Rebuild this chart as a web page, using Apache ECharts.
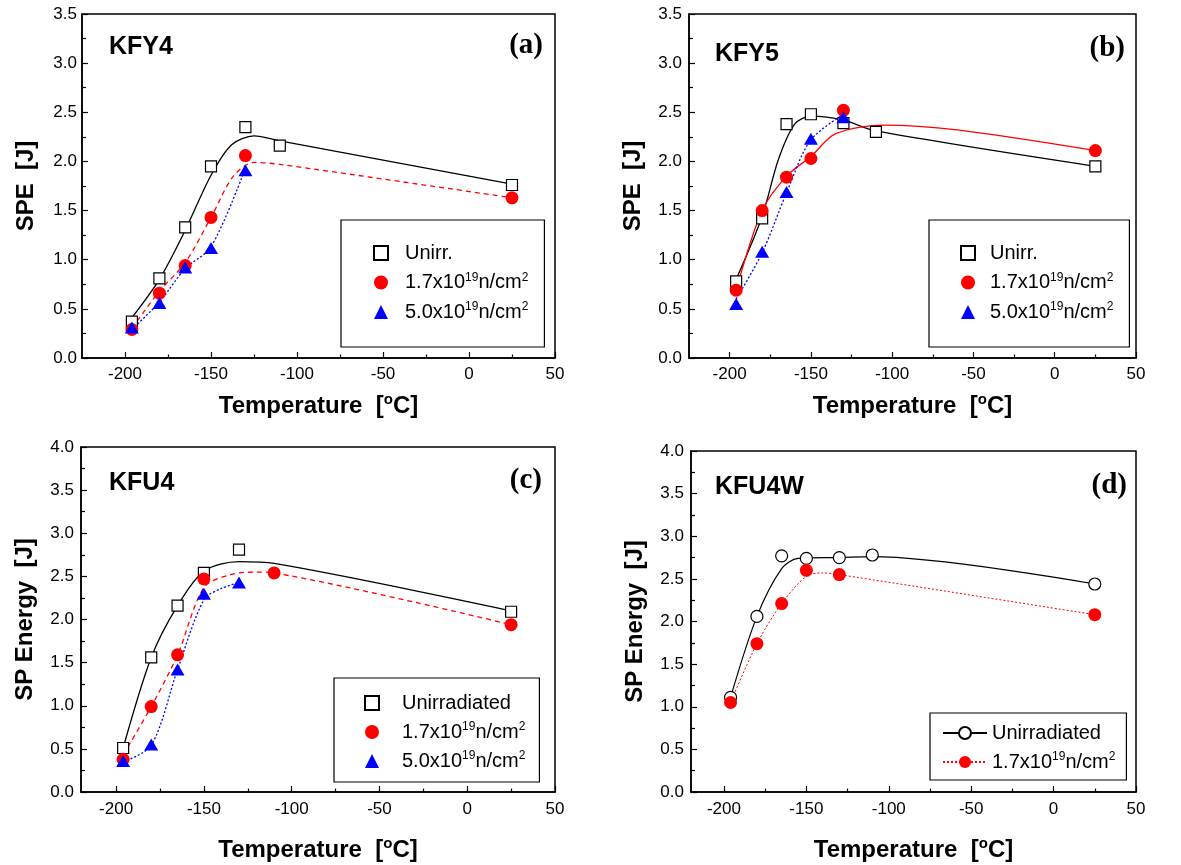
<!DOCTYPE html>
<html>
<head>
<meta charset="utf-8">
<script src="https://cdn.jsdelivr.net/npm/echarts@6/dist/echarts.min.js"></script>
<style>
html, body { margin: 0; padding: 0; background: #fff; }
#main { width: 1181px; height: 865px; }
</style>
</head>
<body>
<div id="main"></div>
<script>
// measured temperatures
var tempAll = [-196, -180, -165, -150, -130, -110, 25];
var tempNo110 = [-196, -180, -165, -150, -130, 25];
var tempLow5 = [-196, -180, -165, -150, -130];
var tempKfu4Low = [-196, -180, -165, -150, -110, 25];

// SP energy values (J)
var kfy4Unirr = [0.37, 0.81, 1.33, 1.95, 2.35, 2.16, 1.76];
var kfy4Low = [0.29, 0.66, 0.94, 1.43, 2.06, 1.63];
var kfy4High = [0.31, 0.56, 0.92, 1.12, 1.91];
var kfy5Unirr = [0.78, 1.42, 2.38, 2.48, 2.39, 2.30, 1.95];
var kfy5Low = [0.69, 1.50, 1.84, 2.03, 2.52, 2.11];
var kfy5High = [0.55, 1.08, 1.69, 2.23, 2.45];
var kfu4Unirr = [0.51, 1.56, 2.16, 2.54, 2.81, 2.09];
var kfu4Low = [0.38, 0.99, 1.59, 2.47, 2.54, 1.94];
var kfu4High = [0.36, 0.55, 1.42, 2.30, 2.43];
var kfu4wUnirr = [1.11, 2.06, 2.77, 2.74, 2.75, 2.78, 2.44];
var kfu4wLow = [1.05, 1.74, 2.21, 2.60, 2.55, 2.08];

// fitted curves
var kfy4FitUnirr = [[-196, 0.41], [-180, 0.80], [-165, 1.30], [-150, 1.86], [-138, 2.17], [-125, 2.26], [-110, 2.21], [25, 1.77]];
var kfy4FitLow = [[-196, 0.30], [-180, 0.68], [-165, 0.97], [-150, 1.43], [-137, 1.85], [-125, 1.99], [-110, 1.97], [25, 1.63]];
var kfy4FitHigh = [[-196, 0.29], [-180, 0.57], [-165, 0.91], [-150, 1.13], [-130, 1.93]];
var kfy5FitUnirr = [[-196, 0.80], [-180, 1.44], [-170, 2.02], [-160, 2.38], [-150, 2.46], [-130, 2.42], [-110, 2.31], [25, 1.95]];
var kfy5FitLow = [[-196, 0.69], [-180, 1.50], [-165, 1.85], [-150, 2.05], [-135, 2.28], [-105, 2.37], [-60, 2.32], [25, 2.11]];
var kfy5FitHigh = [[-196, 0.60], [-180, 1.07], [-165, 1.68], [-150, 2.22], [-127, 2.51]];
var kfu4FitUnirr = [[-196, 0.51], [-180, 1.56], [-165, 2.16], [-150, 2.56], [-130, 2.67], [-110, 2.65], [25, 2.10]];
var kfu4FitLow = [[-196, 0.43], [-180, 0.99], [-165, 1.59], [-150, 2.37], [-135, 2.52], [-120, 2.55], [-110, 2.54], [25, 1.94]];
var kfu4FitHigh = [[-196, 0.35], [-180, 0.54], [-165, 1.42], [-150, 2.23], [-140, 2.36], [-130, 2.43]];
var kfu4wFitUnirr = [[-196, 1.11], [-180, 2.06], [-165, 2.62], [-155, 2.74], [-130, 2.75], [-110, 2.76], [25, 2.44]];
var kfu4wFitLow = [[-196, 1.05], [-180, 1.74], [-165, 2.21], [-150, 2.53], [-140, 2.57], [-130, 2.55], [25, 2.08]];

// axis ticks
var xMajorTicks = [-200, -150, -100, -50, 0, 50];
var xMinorTicks = [-175, -125, -75, -25, 25];

var FONT = '"Liberation Sans", Arial, sans-serif';
var LOW = '1.7x10{sup|19}n/cm{sup|2}';
var HIGH = '5.0x10{sup|19}n/cm{sup|2}';

var legendText = {
    'KFY4 Unirr.': 'Unirr.', 'KFY4 low': LOW, 'KFY4 high': HIGH,
    'KFY5 Unirr.': 'Unirr.', 'KFY5 low': LOW, 'KFY5 high': HIGH,
    'KFU4 Unirr.': 'Unirradiated', 'KFU4 low': LOW, 'KFU4 high': HIGH,
    'KFU4W Unirr.': 'Unirradiated', 'KFU4W low': LOW
};

function pairs(xs, ys) {
    return xs.map(function (x, i) { return [x, ys[i]]; });
}

var chart = echarts.init(document.getElementById('main'));

var panels = [
    { rect: { left: 82, top: 14, width: 473, height: 344 }, xMin: -225, yMax: 3.5, yName: 'SPE  [J]', nameGap: 34, xMargin: 8, yMargin: 5 },
    { rect: { left: 689, top: 14, width: 447, height: 344 }, xMin: -225, yMax: 3.5, yName: 'SPE  [J]', nameGap: 34, xMargin: 8, yMargin: 7 },
    { rect: { left: 81, top: 447, width: 474, height: 345 }, xMin: -220, yMax: 4, yName: 'SP Energy  [J]', nameGap: 44, xMargin: 9, yMargin: 7 },
    { rect: { left: 691, top: 451, width: 445, height: 341 }, xMin: -220, yMax: 4, yName: 'SP Energy  [J]', nameGap: 44, xMargin: 9, yMargin: 7 }
];

var grids = [], xAxes = [], yAxes = [];
panels.forEach(function (p) {
    var g = grids.length;
    grids.push(Object.assign({ show: true, borderColor: '#000', borderWidth: 1.5, backgroundColor: 'transparent', outerBoundsMode: 'none' }, p.rect));
    grids.push(Object.assign({ show: false, outerBoundsMode: 'none' }, p.rect));
    xAxes.push({
        type: 'value', gridIndex: g, min: p.xMin, max: 50,
        name: 'Temperature  [{sup|o}C]', nameLocation: 'middle', nameGap: p.nameGap, nameMoveOverlap: false,
        nameTextStyle: { fontFamily: FONT, fontSize: 24, fontWeight: 'bold', color: '#000', lineHeight: 28,
            rich: { sup: { fontFamily: FONT, fontSize: 15, fontWeight: 'bold', color: '#000', lineHeight: 8, verticalAlign: 'top' } } },
        axisLine: { show: true, onZero: false, lineStyle: { color: '#000', width: 1.5 } },
        axisTick: { show: true, inside: true, length: 6, customValues: xMajorTicks, lineStyle: { color: '#000', width: 1.2 } },
        axisLabel: { customValues: xMajorTicks, margin: p.xMargin, fontFamily: FONT, fontSize: 17, color: '#000' },
        splitLine: { show: false }
    });
    xAxes.push({
        type: 'value', gridIndex: g + 1, min: p.xMin, max: 50,
        axisLine: { show: false, onZero: false },
        axisTick: { show: true, inside: true, length: 3.5, customValues: xMinorTicks, lineStyle: { color: '#000', width: 1.2 } },
        axisLabel: { show: false },
        splitLine: { show: false }
    });
    yAxes.push({
        type: 'value', gridIndex: g, min: 0, max: p.yMax, interval: 0.5,
        name: p.yName, nameLocation: 'middle', nameGap: 44, nameMoveOverlap: false,
        nameTextStyle: { fontFamily: FONT, fontSize: 24, fontWeight: 'bold', color: '#000' },
        axisLine: { show: true, onZero: false, lineStyle: { color: '#000', width: 1.5 } },
        axisTick: { show: true, inside: true, length: 6, lineStyle: { color: '#000', width: 1.2 } },
        minorTick: { show: true, splitNumber: 2, length: 4, lineStyle: { color: '#000', width: 1.2 } },
        axisLabel: { margin: p.yMargin, fontFamily: FONT, fontSize: 17, color: '#000',
            formatter: function (v) { return v.toFixed(1); } },
        splitLine: { show: false }
    });
    yAxes.push({ type: 'value', gridIndex: g + 1, min: 0, max: 1, show: false, axisLine: { onZero: false } });
});

var marks = {
    square: { symbol: 'rect', symbolSize: 11, itemStyle: { color: '#fff', borderColor: '#000', borderWidth: 1.2, opacity: 1 } },
    red: { symbol: 'circle', symbolSize: 13, itemStyle: { color: '#ff0000', opacity: 1 } },
    blue: { symbol: 'triangle', symbolSize: [14, 12], itemStyle: { color: '#0000ff', opacity: 1 } },
    open: { symbol: 'circle', symbolSize: 12, itemStyle: { color: '#fff', borderColor: '#000', borderWidth: 1.2, opacity: 1 } }
};

function pts(name, panel, data, mark) {
    var m = marks[mark];
    return {
        name: name, type: 'scatter', xAxisIndex: panel * 2, yAxisIndex: panel * 2,
        data: data, symbol: m.symbol, symbolSize: m.symbolSize, itemStyle: m.itemStyle, z: 3
    };
}

function fit(name, panel, data, color, type, width) {
    return {
        name: name, type: 'line', xAxisIndex: panel * 2, yAxisIndex: panel * 2,
        data: data, smooth: 0.3, showSymbol: false, silent: true,
        lineStyle: { color: color, width: width || 1.3, type: type }, z: 2
    };
}

var series = [
    fit('KFY4 fit u', 0, kfy4FitUnirr, '#000', 'solid'),
    fit('KFY4 fit l', 0, kfy4FitLow, '#ff0000', [5, 4]),
    fit('KFY4 fit h', 0, kfy4FitHigh, '#0000ff', [2, 2]),
    pts('KFY4 Unirr.', 0, pairs(tempAll, kfy4Unirr), 'square'),
    pts('KFY4 low', 0, pairs(tempNo110, kfy4Low), 'red'),
    pts('KFY4 high', 0, pairs(tempLow5, kfy4High), 'blue'),

    fit('KFY5 fit u', 1, kfy5FitUnirr, '#000', 'solid'),
    fit('KFY5 fit l', 1, kfy5FitLow, '#ff0000', 'solid'),
    fit('KFY5 fit h', 1, kfy5FitHigh, '#0000ff', [2, 2]),
    pts('KFY5 Unirr.', 1, pairs(tempAll, kfy5Unirr), 'square'),
    pts('KFY5 low', 1, pairs(tempNo110, kfy5Low), 'red'),
    pts('KFY5 high', 1, pairs(tempLow5, kfy5High), 'blue'),

    fit('KFU4 fit u', 2, kfu4FitUnirr, '#000', 'solid'),
    fit('KFU4 fit l', 2, kfu4FitLow, '#ff0000', [5, 4]),
    fit('KFU4 fit h', 2, kfu4FitHigh, '#0000ff', [2, 2]),
    pts('KFU4 Unirr.', 2, pairs(tempNo110, kfu4Unirr), 'square'),
    pts('KFU4 low', 2, pairs(tempKfu4Low, kfu4Low), 'red'),
    pts('KFU4 high', 2, pairs(tempLow5, kfu4High), 'blue'),

    Object.assign(fit('KFU4W Unirr.', 3, kfu4wFitUnirr, '#000', 'solid', 1.2),
        { symbol: 'circle', itemStyle: { color: '#fff', borderColor: '#000', borderWidth: 1.2 } }),
    Object.assign(fit('KFU4W low', 3, kfu4wFitLow, '#ff0000', [2, 2], 1),
        { symbol: 'circle', itemStyle: { color: '#ff0000' } }),
    pts('KFU4W u pts', 3, pairs(tempAll, kfu4wUnirr), 'open'),
    pts('KFU4W l pts', 3, pairs(tempNo110, kfu4wLow), 'red')
];

function legend(names, pos, itemWidth, itemHeight, itemGap, padding, textPad) {
    return {
        data: names, orient: 'vertical', left: pos[0], top: pos[1],
        itemWidth: itemWidth, itemHeight: itemHeight, itemGap: itemGap, padding: padding,
        borderColor: '#000', borderWidth: 1.2, backgroundColor: '#fff', selectedMode: false,
        formatter: function (n) { return legendText[n]; },
        textStyle: { fontFamily: FONT, fontSize: 20, color: '#000', lineHeight: 22, padding: [0, 0, 0, textPad],
            rich: { sup: { fontFamily: FONT, fontSize: 12, color: '#000', lineHeight: 10, verticalAlign: 'top' } } }
    };
}

var legends = [
    legend(['KFY4 Unirr.', 'KFY4 low', 'KFY4 high'], [341, 220], 14, 14, 7.5, [22, 16, 24, 32], 12),
    legend(['KFY5 Unirr.', 'KFY5 low', 'KFY5 high'], [929, 220], 14, 14, 7.5, [22, 16, 24, 31], 10),
    legend(['KFU4 Unirr.', 'KFU4 low', 'KFU4 high'], [334, 678], 14, 14, 7, [14, 14, 10, 30], 18),
    legend(['KFU4W Unirr.', 'KFU4W low'], [930, 713], 44, 15, 7, [9, 11, 7, 12], 0)
];

function label(text, x, y, align, serif) {
    return {
        type: 'text', x: x, y: y, z: 10,
        style: {
            text: text, fill: '#000', align: align, verticalAlign: 'middle',
            fontFamily: serif ? '"Liberation Serif", "Times New Roman", serif' : FONT,
            fontSize: serif ? 29 : 25, fontWeight: 'bold'
        }
    };
}

var option = {
    backgroundColor: '#fff',
    animation: false,
    grid: grids,
    xAxis: xAxes,
    yAxis: yAxes,
    legend: legends,
    series: series,
    graphic: [
        label('KFY4', 109, 47, 'left'),
        label('KFY5', 715, 54, 'left'),
        label('KFU4', 109, 483, 'left'),
        label('KFU4W', 715, 487, 'left'),
        label('(a)', 543, 46, 'right', true),
        label('(b)', 1125, 49, 'right', true),
        label('(c)', 542, 481, 'right', true),
        label('(d)', 1127, 486, 'right', true)
    ]
};

chart.setOption(option);
</script>
</body>
</html>
